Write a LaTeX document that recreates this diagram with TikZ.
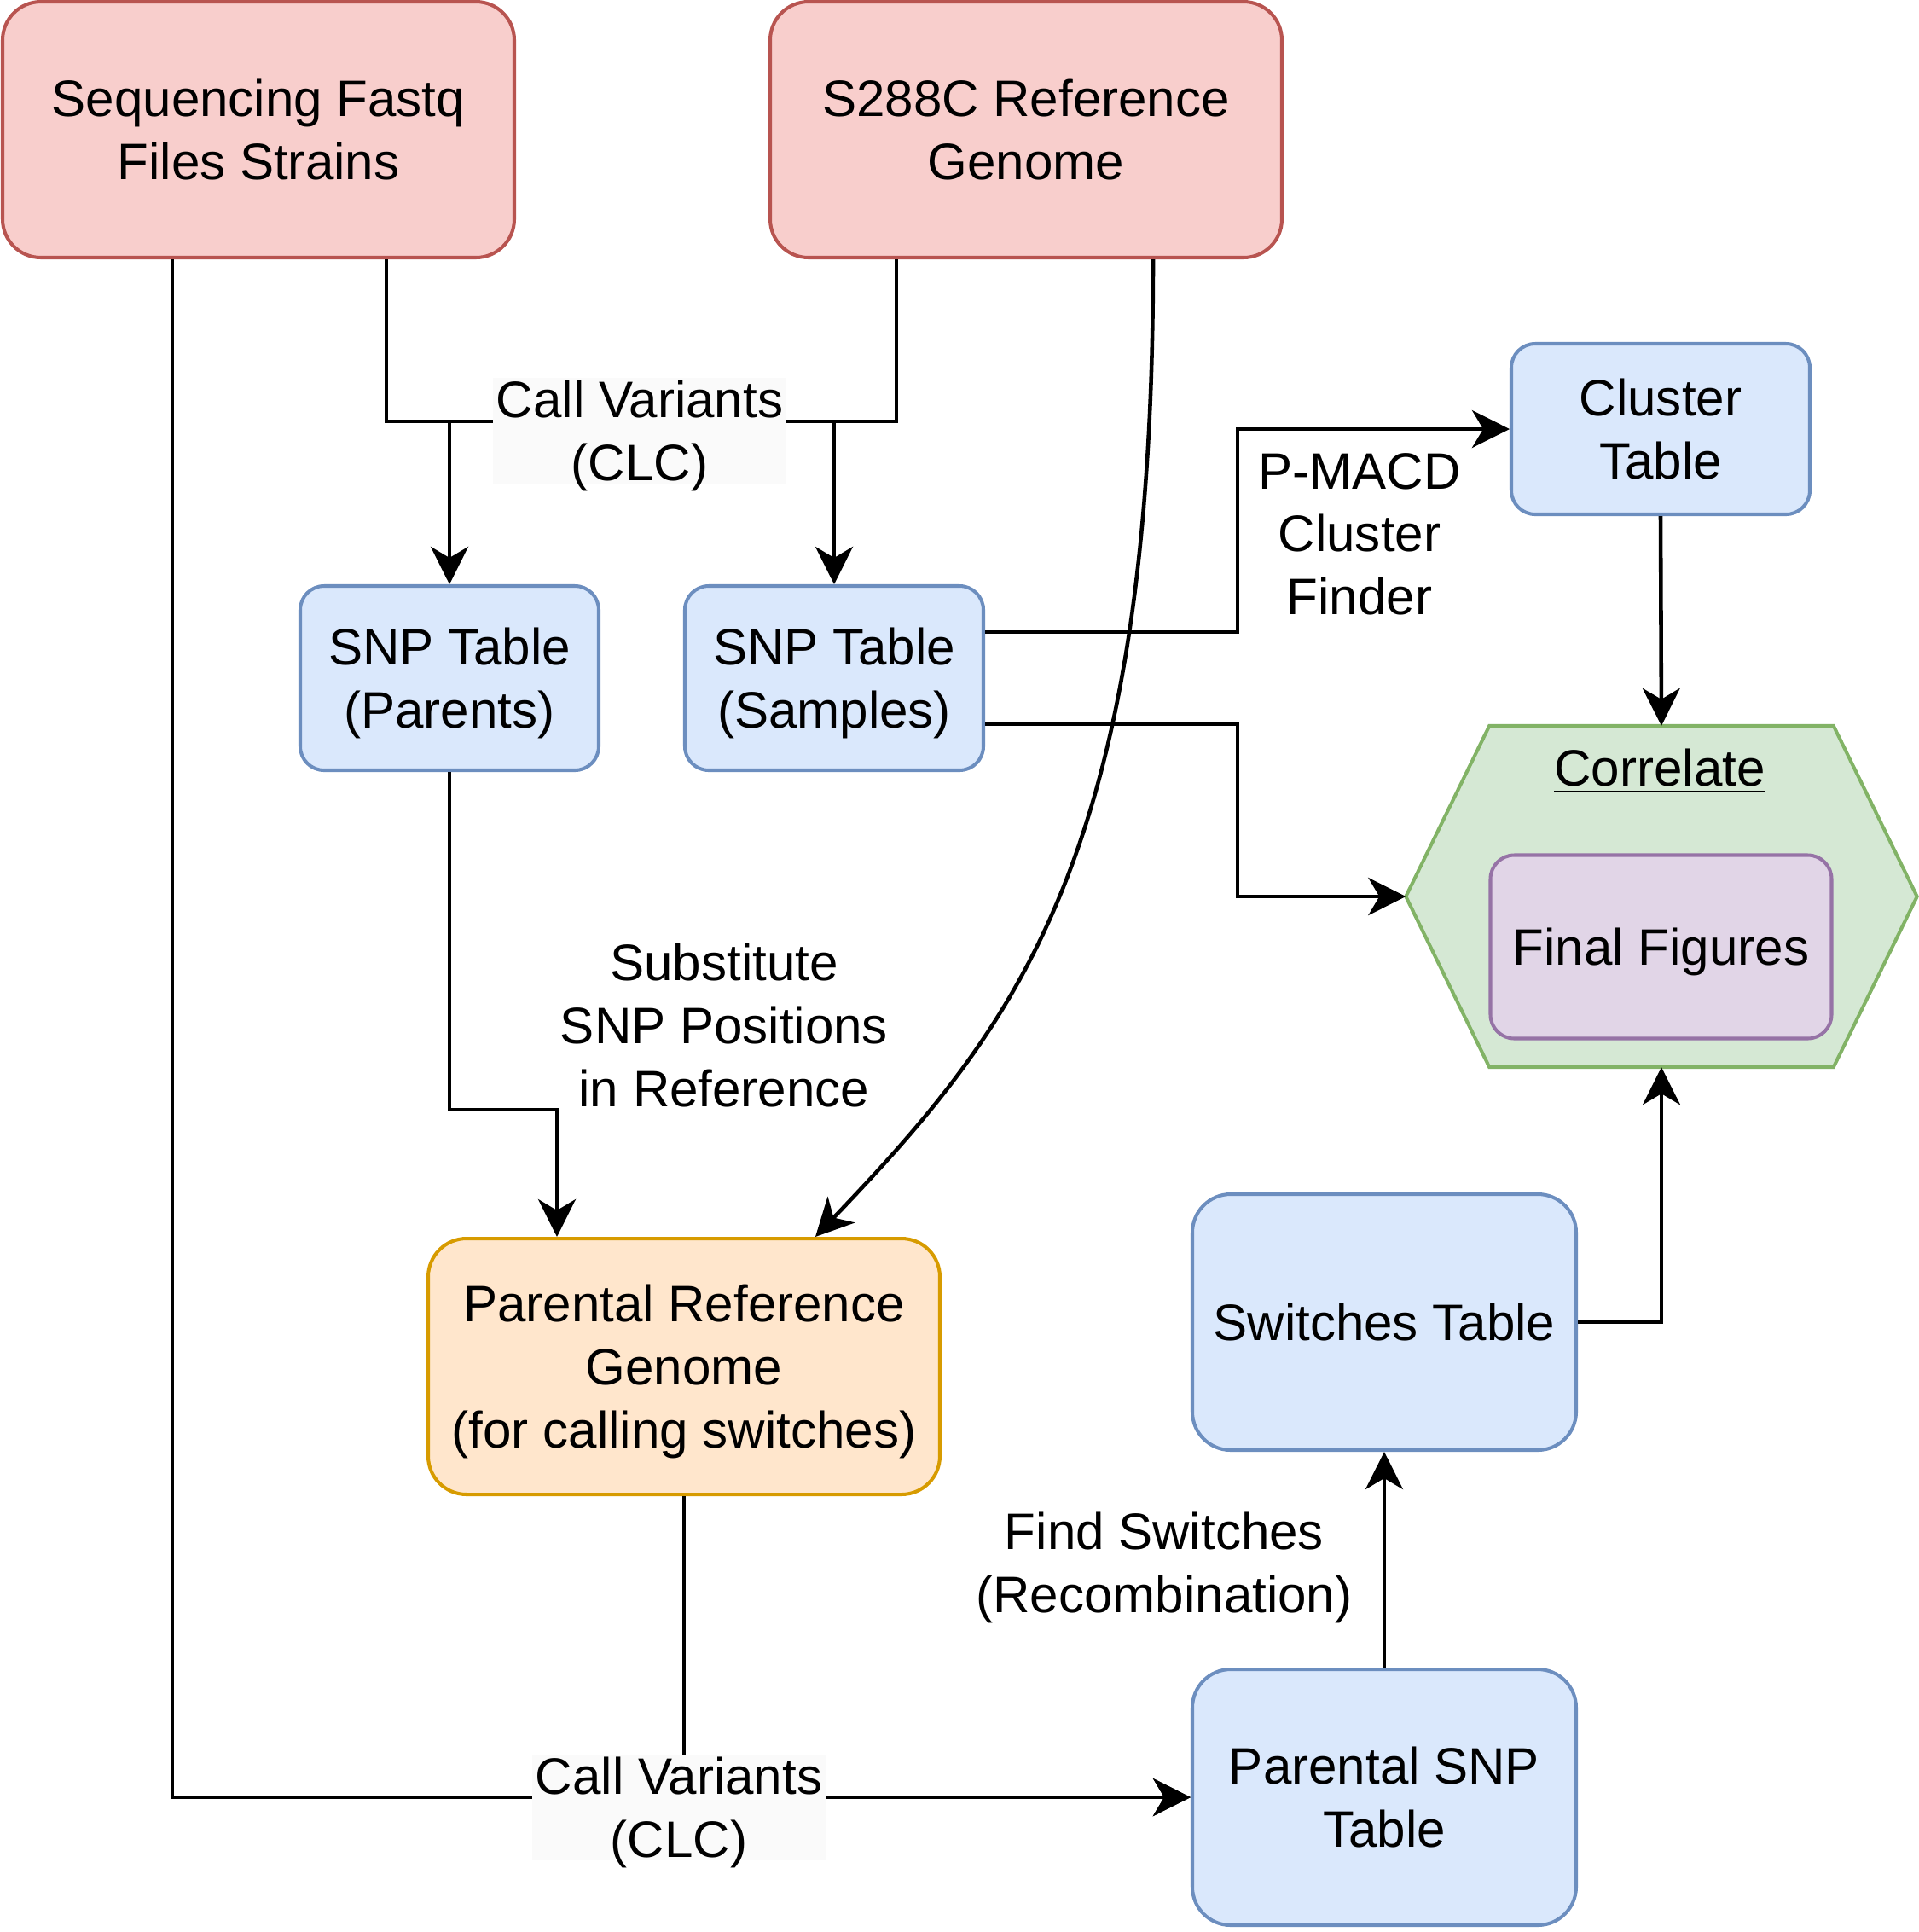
\documentclass[tikz,border=0pt]{standalone}
\usepackage{fontspec}
\setmainfont{Liberation Sans}
\usetikzlibrary{arrows.meta, calc}
\definecolor{redfill}{HTML}{F8CECC}
\definecolor{redline}{HTML}{B85450}
\definecolor{bluefill}{HTML}{DAE8FC}
\definecolor{blueline}{HTML}{6C8EBF}
\definecolor{orangefill}{HTML}{FFE6CC}
\definecolor{orangeline}{HTML}{D79B00}
\definecolor{greenfill}{HTML}{D5E8D4}
\definecolor{greenline}{HTML}{82B366}
\definecolor{purplefill}{HTML}{E1D5E7}
\definecolor{purpleline}{HTML}{9673A6}
\definecolor{labelfill}{HTML}{FAFAFA}
\begin{document}
\begin{tikzpicture}[x=1cm, y=-1cm,
	every node/.style={font=\fontsize{17.1pt}{21pt}\selectfont, align=center, text depth=0pt},
	box/.style={draw, line width=1.15pt, inner sep=0pt},
	bigbox/.style={box, rounded corners=0.45cm, minimum width=6cm, minimum height=3cm},
	redbox/.style={bigbox, fill=redfill, draw=redline},
	orangebox/.style={bigbox, fill=orangefill, draw=orangeline},
	tablebox/.style={box, rounded corners=0.28cm, fill=bluefill, draw=blueline, minimum width=3.5cm, minimum height=2.16cm},
	widebox/.style={box, rounded corners=0.45cm, fill=bluefill, draw=blueline, minimum width=4.5cm, minimum height=3cm},
	hexbox/.style={draw=greenline, fill=greenfill, line width=1.15pt},
	conn/.style={draw, line width=1.3pt, -{Stealth[length=0.44cm, width=0.44cm, inset=0.13cm]}},
	tag/.style={fill=labelfill, inner sep=1pt}]
	\useasboundingbox (0,0) rectangle (22.5,22.65);

	% inputs
	\node[redbox] 		(fastq) 		at (3.03,1.52) 		{Sequencing Fastq\\Files Strains};
	\node[redbox] 		(refgen) 		at (12.03,1.52) 	{S288C Reference\\Genome};

	% tables
	\node[tablebox] 	(snpparents) 	at (5.27,7.95) 		{SNP Table\\(Parents)};
	\node[tablebox] 	(snpsamples) 	at (9.78,7.95) 		{SNP Table\\(Samples)};
	\node[tablebox, minimum height=2cm] (cluster) at (19.47,5.03) {Cluster\\Table};
	\node[orangebox] 	(prg) 			at (8.02,16.02) 	{Parental Reference\\Genome\\(for calling switches)};
	\node[widebox] 		(switches) 		at (16.23,15.5) 	{Switches Table};
	\node[widebox] 		(psnp) 			at (16.23,21.07) 	{Parental SNP\\Table};

	% correlate hexagon
	\node[minimum width=5.98cm, minimum height=3.99cm, inner sep=0pt] (correlate) at (19.48,10.51) {};
	\draw[hexbox] ($(correlate.north west)+(0.98,0)$) -- ($(correlate.north east)+(-0.98,0)$) -- (correlate.east)
		-- ($(correlate.south east)+(-0.98,0)$) -- ($(correlate.south west)+(0.98,0)$) -- (correlate.west) -- cycle;
	\node 				(corrtitle) 	at (19.46,9.0) 		{\underline{Correlate}};
	\node[box, rounded corners=0.28cm, fill=purplefill, draw=purpleline, minimum width=4cm, minimum height=2.15cm]
						(finalfig) 		at (19.475,11.1) 	{Final Figures};

	% helper points
	\coordinate 		(callvar) 		at (7.5,4.94);
	\coordinate 		(split) 		at (14.51,7.95);
	\coordinate 		(subst) 		at (5.27,13.01);

	% connectors
	\draw[conn] ($(fastq.south)+(1.5,0)$) |- (callvar) -| (snpsamples.north);
	\draw[conn] ($(refgen.south)+(-1.52,0)$) |- (callvar) -| (snpparents.north);
	\node[tag] 			(callvartag) 	at (7.5,5.05) 		{Call Variants\\(CLC)};

	\draw[conn] ($(refgen.south)+(1.49,0)$) .. controls (13.52,10.0) and (11.95,12.0) .. ($(prg.north)+(1.54,0)$);

	\draw[conn] (snpparents.south) -- (subst) -| ($(prg.north)+(-1.49,0)$);
	\node 				(substtag) 		at (8.49,12.02) 	{Substitute\\SNP Positions\\in Reference};

	\draw[conn] ($(snpsamples.east)+(0,-0.54)$) -| (split |- cluster.west) -- (cluster.west);
	\node 				(pmacdtag) 		at (15.94,6.26) 	{P-MACD\\Cluster\\Finder};
	\draw[conn] ($(snpsamples.east)+(0,0.54)$) -| (split |- correlate.west) -- (correlate.west);

	\draw[conn] (cluster.south) -- (correlate.north);
	\draw[conn] (switches.east) -| (correlate.south);

	\draw[conn] (psnp.north) -- (switches.south);
	\node 				(findtag) 		at (13.65,18.32) 	{Find Switches\\(Recombination)};

	\draw[conn] ($(fastq.south)+(-1.01,0)$) |- (psnp.west);
	\draw[conn] (prg.south) |- (psnp.west);
	\node[tag] 			(calltag) 		at (7.96,21.19) 	{Call Variants\\(CLC)};
\end{tikzpicture}
\end{document}
